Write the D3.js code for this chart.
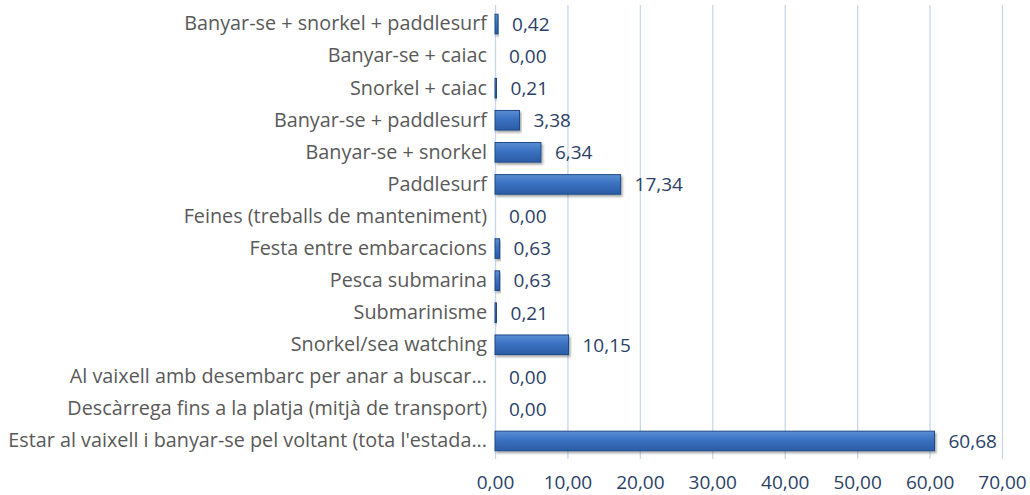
<!DOCTYPE html>
<html>
<head>
<meta charset="utf-8">
<script src="https://cdn.jsdelivr.net/npm/d3@7"></script>
<style>
  body { margin: 0; background: #fff; }
  svg { display: block; font-family: "Open Sans", sans-serif; }
  .cat-axis text { fill: #595959; font-size: 19.8px; }
  .val-axis text { fill: #2b3f68; font-size: 19px; }
  .bar-label { fill: #2b3f68; font-size: 19px; }
</style>
</head>
<body>
<div id="chart"></div>
<script>
// categories, top to bottom
var categories = [
  "Banyar-se + snorkel + paddlesurf",
  "Banyar-se + caiac",
  "Snorkel + caiac",
  "Banyar-se + paddlesurf",
  "Banyar-se + snorkel",
  "Paddlesurf",
  "Feines (treballs de manteniment)",
  "Festa entre embarcacions",
  "Pesca submarina",
  "Submarinisme",
  "Snorkel/sea watching",
  "Al vaixell amb desembarc per anar a buscar...",
  "Descàrrega fins a la platja (mitjà de transport)",
  "Estar al vaixell i banyar-se pel voltant (tota l'estada..."
];
var values = [0.42, 0.00, 0.21, 3.38, 6.34, 17.34, 0.00, 0.63, 0.63, 0.21, 10.15, 0.00, 0.00, 60.68];
var xTicks = [0, 10, 20, 30, 40, 50, 60, 70];

var svgWidth = 1030;
var svgHeight = 495;

// plot box in page pixels
var plot = { left: 495, right: 1002, top: 8, bottom: 457 };

var svg = d3.select("#chart")
  .append("svg")
  .attr("width", svgWidth)
  .attr("height", svgHeight);

// comma as decimal separator
var locale = d3.formatLocale({ decimal: ",", thousands: ".", grouping: [3], currency: ["", " €"] });
var fmt = locale.format(".2f");

var xScale = d3.scaleLinear()
  .domain([0, 70])
  .range([plot.left, plot.right]);

var yScale = d3.scaleBand()
  .domain(categories)
  .range([plot.top, plot.bottom])
  .paddingInner(0.39)
  .paddingOuter(0.195);

// gradient + shadow for the bars
var defs = svg.append("defs");
var grad = defs.append("linearGradient")
  .attr("id", "barGrad")
  .attr("x1", 0).attr("y1", 0).attr("x2", 0).attr("y2", 1);
grad.append("stop").attr("offset", "0%").attr("stop-color", "#5a8ed4");
grad.append("stop").attr("offset", "45%").attr("stop-color", "#3b71c0");
grad.append("stop").attr("offset", "100%").attr("stop-color", "#2b5ca6");

var shadow = defs.append("filter")
  .attr("id", "shadow")
  .attr("x", "-5%").attr("y", "-30%").attr("width", "115%").attr("height", "170%");
shadow.append("feDropShadow")
  .attr("dx", 1.5).attr("dy", 2)
  .attr("stdDeviation", 1.3)
  .attr("flood-color", "#000")
  .attr("flood-opacity", 0.35);

// vertical gridlines
svg.append("g")
  .selectAll("line")
  .data(xTicks)
  .enter()
  .append("line")
  .attr("x1", d => xScale(d) + 0.5)
  .attr("x2", d => xScale(d) + 0.5)
  .attr("y1", 5)
  .attr("y2", 459)
  .attr("stroke", "#c8d6ed")
  .attr("stroke-width", 1.3);

// bottom tick labels
var bottomAxis = d3.axisBottom(xScale)
  .tickValues(xTicks)
  .tickFormat(fmt)
  .tickSize(0)
  .tickPadding(0);

svg.append("g")
  .attr("class", "val-axis")
  .attr("transform", "translate(0, 489)")
  .call(bottomAxis)
  .attr("font-family", null)
  .attr("font-size", null)
  .call(g => g.select(".domain").remove())
  .call(g => g.selectAll("text").attr("dy", 0));

// category labels
var leftAxis = d3.axisLeft(yScale)
  .tickSize(0)
  .tickPadding(8);

svg.append("g")
  .attr("class", "cat-axis")
  .attr("transform", `translate(${plot.left}, 0)`)
  .call(leftAxis)
  .attr("font-family", null)
  .attr("font-size", null)
  .call(g => g.select(".domain").remove());

// bars
svg.append("g")
  .selectAll("rect")
  .data(values)
  .enter()
  .append("rect")
  .attr("x", xScale(0))
  .attr("y", (d, i) => yScale(categories[i]))
  .attr("width", d => Math.max(xScale(d) - xScale(0), 0))
  .attr("height", yScale.bandwidth())
  .attr("fill", "url(#barGrad)")
  .attr("stroke", d => d > 0 ? "#1f4a86" : "none")
  .attr("stroke-width", 1)
  .attr("filter", "url(#shadow)");

// value labels
svg.append("g")
  .selectAll("text")
  .data(values)
  .enter()
  .append("text")
  .attr("class", "bar-label")
  .attr("x", d => xScale(d) + 14)
  .attr("y", (d, i) => yScale(categories[i]) + yScale.bandwidth() / 2)
  .attr("dy", "0.36em")
  .text(d => fmt(d));
</script>
</body>
</html>
